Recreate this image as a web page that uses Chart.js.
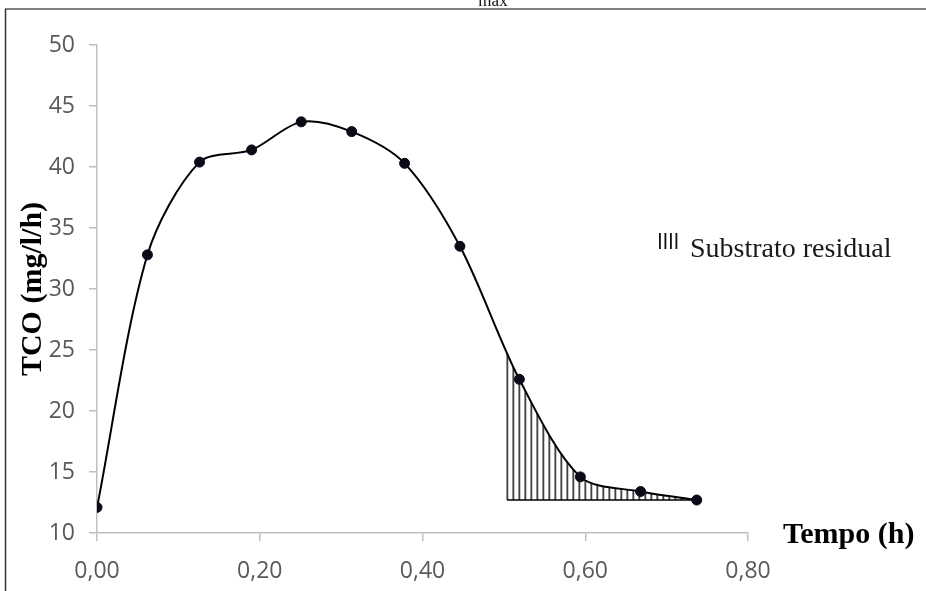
<!DOCTYPE html>
<html>
<head>
<meta charset="utf-8">
<script src="https://cdn.jsdelivr.net/npm/chart.js@4.4.0/dist/chart.umd.min.js"></script>
<style>
  html, body { margin: 0; padding: 0; background: #fff; }
  #caixa { position: relative; width: 926px; height: 591px; }
</style>
</head>
<body>
<div id="caixa"><canvas id="graficoTco" width="926" height="591"></canvas></div>
<script>
// valores
const tempo = [0.000, 0.062, 0.126, 0.190, 0.251, 0.313, 0.378, 0.446, 0.519, 0.594, 0.668, 0.737]
const tco = [12.1, 32.8, 40.4, 41.4, 43.7, 42.9, 40.3, 33.5, 22.6, 14.6, 13.4, 12.7]
const substratoTempo = [0.504, 0.737]
const substratoBase = [12.7, 12.7]
const ticksX = [0, 0.2, 0.4, 0.6, 0.8]
const ticksY = [10, 15, 20, 25, 30, 35, 40, 45, 50]

const pontos = tempo.map((t, i) => ({x: t, y: tco[i]}))
const base = substratoTempo.map((t, i) => ({x: t, y: substratoBase[i]}))

const canvas = document.getElementById('graficoTco')
const ctx = canvas.getContext('2d')

// hachura vertical
function criarHachura(){
    const c = document.createElement('canvas')
    c.width = 6
    c.height = 6
    const g = c.getContext('2d')
    g.fillStyle = '#000'
    g.fillRect(0, 0, 1.4, 6)
    return ctx.createPattern(c, 'repeat')
}
const hachura = criarHachura()

const pluginHachura = {
    id: 'hachura',
    beforeDatasetsDraw(chart){
        const x = chart.scales.x
        const area = chart.chartArea
        const x0 = x.getPixelForValue(substratoTempo[0])
        const x1 = x.getPixelForValue(substratoTempo[1])
        hachura.setTransform(new DOMMatrix([1, 0, 0, 1, Math.round(x0) - 0.5, 0]))
        chart.ctx.save()
        chart.ctx.beginPath()
        chart.ctx.rect(x0 - 1, area.top, x1 - x0 + 1, area.bottom - area.top)
        chart.ctx.clip()
    },
    afterDatasetDraw(chart, args){
        if( args.index === 1 ){
            chart.ctx.restore()
        }
    }
}

const pluginMoldura = {
    id: 'moldura',
    beforeDraw(chart){
        const c = chart.ctx
        c.save()
        c.fillStyle = '#fff'
        c.fillRect(0, 0, chart.width, chart.height)
        c.strokeStyle = '#808080'
        c.lineWidth = 2
        c.beginPath(); c.moveTo(5, 9); c.lineTo(chart.width, 9); c.stroke()
        c.strokeStyle = '#333'
        c.lineWidth = 1.5
        c.beginPath(); c.moveTo(5.5, 9); c.lineTo(5.5, chart.height); c.stroke()
        c.fillStyle = '#111'
        c.font = '17px "Liberation Serif"'
        c.textAlign = 'center'
        c.textBaseline = 'alphabetic'
        c.fillText('max', 493, 6)
        c.restore()
    },
    afterDraw(chart){
        const c = chart.ctx
        const area = chart.chartArea
        c.save()
        // titulo do eixo x, a direita do eixo
        c.fillStyle = '#000'
        c.font = 'bold 30px "Liberation Serif"'
        c.textAlign = 'left'
        c.textBaseline = 'middle'
        c.fillText('Tempo (h)', area.right + 35, area.bottom + 2)
        // legenda
        c.fillStyle = '#111'
        for( let i = 0; i < 4; i++ ){
            c.fillRect(659 + i * 5.5, 233, 1.8, 16)
        }
        c.fillStyle = '#1a1a1a'
        c.font = '28px "Liberation Serif"'
        c.textBaseline = 'alphabetic'
        c.fillText('Substrato residual', 690, 257)
        c.restore()
    }
}

const corEixo = '#bfbfbf'
const fonteTicks = {family: '"Open Sans", "Liberation Sans", sans-serif', size: 23}

const configuracao = {
    type: 'line',
    data: {
        datasets: [
            {
                label: 'TCO',
                data: pontos,
                borderColor: '#000',
                borderWidth: 2,
                tension: 0.3,
                pointRadius: 5,
                pointBackgroundColor: '#0b0b18',
                pointBorderColor: '#0b0b18',
                pointBorderWidth: 1,
                fill: false
            },
            {
                label: 'Substrato residual',
                data: pontos,
                borderWidth: 0,
                borderColor: 'rgba(0,0,0,0)',
                tension: 0.3,
                pointRadius: 0,
                backgroundColor: hachura,
                fill: {value: substratoBase[0]}
            },
            {
                label: 'base',
                data: base,
                borderColor: '#000',
                borderWidth: 1.6,
                pointRadius: 0,
                tension: 0,
                fill: false
            }
        ]
    },
    options: {
        responsive: false,
        animation: false,
        layout: {padding: {top: 45, right: 178, bottom: 0, left: 0}},
        plugins: {
            legend: {display: false},
            tooltip: {enabled: false}
        },
        scales: {
            x: {
                type: 'linear',
                min: 0,
                max: 0.8,
                afterBuildTicks: s => { s.ticks = ticksX.map(v => ({value: v})) },
                afterFit: s => { s.height = 58 },
                grid: {display: true, drawOnChartArea: false, color: corEixo, tickLength: 8, lineWidth: 1.5},
                border: {display: true, color: corEixo, width: 1.5},
                ticks: {
                    color: '#595959',
                    font: fonteTicks,
                    padding: 17,
                    callback: v => v.toFixed(2).replace('.', ',')
                }
            },
            y: {
                type: 'linear',
                min: 10,
                max: 50,
                afterBuildTicks: s => { s.ticks = ticksY.map(v => ({value: v})) },
                afterFit: s => { s.width = 97 },
                grid: {display: true, drawOnChartArea: false, color: corEixo, tickLength: 8, lineWidth: 1.5},
                border: {display: true, color: corEixo, width: 1.5},
                ticks: {
                    color: '#595959',
                    font: fonteTicks,
                    padding: 14,
                    callback: v => String(v)
                },
                title: {
                    display: true,
                    text: 'TCO (mg/l/h)',
                    color: '#000',
                    font: {family: '"Liberation Serif"', size: 30, weight: 'bold'},
                    padding: {top: 15, bottom: 0}
                }
            }
        }
    },
    plugins: [pluginMoldura, pluginHachura]
}

const grafico = new Chart(canvas, configuracao)
</script>
</body>
</html>
